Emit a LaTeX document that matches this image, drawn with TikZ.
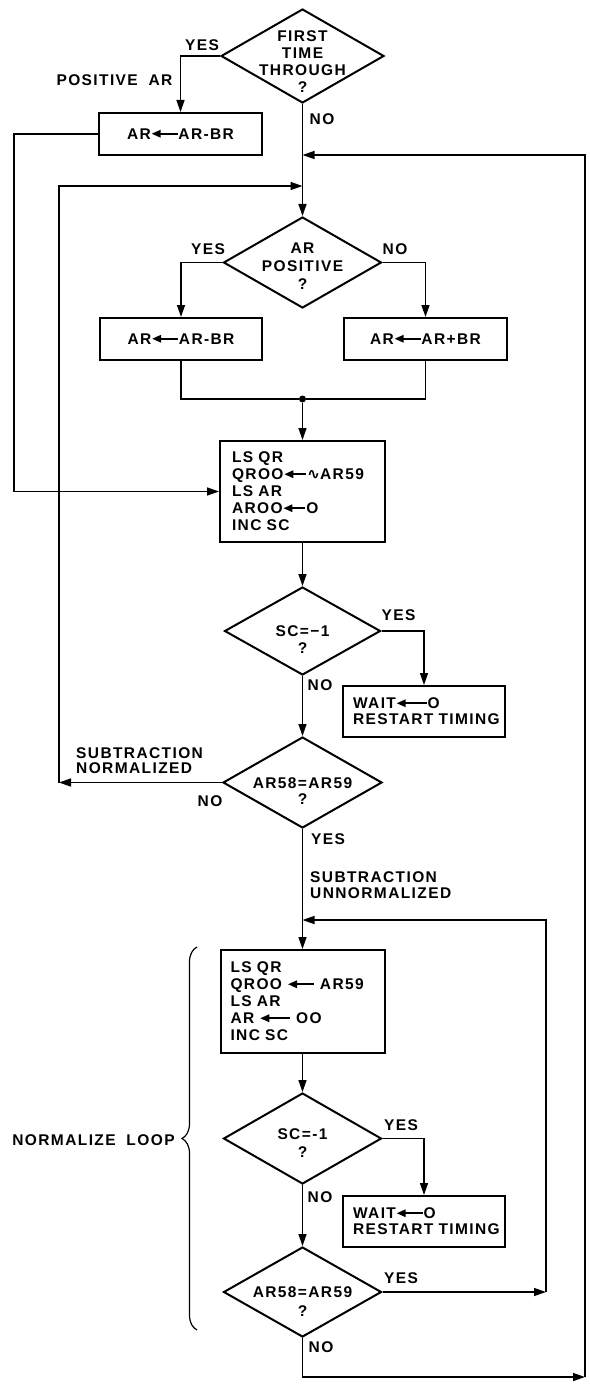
\documentclass[tikz,border=0pt]{standalone}
\usepackage{fontspec}
\setmainfont{Liberation Sans}[LetterSpace=9, WordSpace=1.9, BoldFont={Liberation Sans Bold}]
\newfontfamily\symfont{DejaVu Sans}[BoldFont={DejaVu Sans Bold}]
\usetikzlibrary{shapes.geometric,arrows.meta,decorations.pathreplacing}
\newcommand{\tarr}[1]{\tikz[baseline=-5.6pt]\draw[line width=1.6pt,-{Triangle[length=9pt,width=7.5pt]}] (#1,0pt) -- (0pt,0pt);}
\newcommand{\lf}[1]{\fontsize{15.5}{#1}\selectfont\bfseries}
\begin{document}
\begin{tikzpicture}[x=1pt,y=-1pt,
  txt/.style={font=\lf{17}, inner sep=0pt, align=center},
  box/.style={draw, line width=2pt, rectangle, inner ysep=0pt, font=\lf{17}},
  dia/.style={draw, diamond, line width=2pt, inner sep=0pt, minimum width=158, minimum height=90},
  conn/.style={line width=1.4pt},
  arr/.style={conn, -{Triangle[length=12pt,width=8pt]}},
]
\fill[white] (0,0) rectangle (589,1388);
\useasboundingbox (0,0) rectangle (589,1388);

% main column nodes
\node[dia, minimum width=163, minimum height=94] (d1) at (302.5,56) {};
\node[txt] (d1t) at (302.5,61.5) {FIRST\\TIME\\THROUGH\\?};
\node[box, minimum width=163, minimum height=42] (b1) at (180.5,134) {AR\tarr{26pt}AR-BR};
\node[dia, minimum height=91] (d2) at (302.5,262.5) {};
\node[txt, font=\lf{18}] (d2t) at (302.5,266) {AR\\POSITIVE\\?};
\node[box, minimum width=162, minimum height=42] (b2) at (181,339) {AR\tarr{26pt}AR-BR};
\node[box, minimum width=163, minimum height=42] (b3) at (425.5,339) {AR\tarr{26pt}AR+BR};
\node[circle, fill, inner sep=0pt, minimum size=7] (m) at (302.5,399) {};
\node[box, text width=141, inner xsep=12, minimum height=101, align=left] (ls1) at (302.5,491.5)
  {LS QR\\QROO\tarr{22pt}{\symfont ∿}AR59\\LS AR\\AROO\tarr{22pt}O\\INC SC};
\node[dia, minimum width=156, minimum height=88] (d3) at (302.5,631) {};
\node[txt] (d3t) at (302.5,639.5) {SC=−1\\?};
\node[box, text width=142, inner xsep=10, minimum height=51, align=left, font=\lf{16}] (w1) at (424,711.5)
  {WAIT\tarr{30pt}O\\\mbox{RESTART\ TIMING}};
\node[dia, minimum width=159, minimum height=91] (d4) at (302.5,782.5) {};
\node[txt, font=\lf{16}] (d4t) at (302.5,791) {AR58=AR59\\?};
\node[box, text width=144, inner xsep=10, minimum height=103, align=left] (ls2) at (302.5,1001.5)
  {LS QR\\QROO \tarr{26pt} AR59\\LS AR\\AR \tarr{30pt} OO\\INC SC};
\node[dia, minimum height=91] (d5) at (302.5,1138.5) {};
\node[txt, font=\lf{18}] (d5t) at (302.5,1143) {SC=-1\\?};
\node[box, text width=142, inner xsep=10, minimum height=51, align=left, font=\lf{16}] (w2) at (424,1221.5)
  {WAIT\tarr{26pt}O\\\mbox{RESTART\ TIMING}};
\node[dia, minimum height=90] (d6) at (302.5,1292) {};
\node[txt, font=\lf{19}] (d6t) at (302.5,1302) {AR58=AR59\\?};

% labels
\node[txt] (l1) at (202,45) {YES};
\node[txt] (l2) at (114.5,80) {POSITIVE AR};
\node[txt] (l3) at (322,119) {NO};
\node[txt] (l4) at (208,249) {YES};
\node[txt] (l5) at (395,249) {NO};
\node[txt] (l6) at (398.5,615) {YES};
\node[txt] (l7) at (320,685) {NO};
\node[txt, anchor=west, align=left, font=\lf{15}] (l8) at (76,760.5) {SUBTRACTION\\NORMALIZED};
\node[txt] (l9) at (210,801) {NO};
\node[txt] (l10) at (328,839) {YES};
\node[txt, anchor=west, align=left, font=\lf{16}] (l11) at (310,885) {SUBTRACTION\\UNNORMALIZED};
\node[txt] (l12) at (401,1125) {YES};
\node[txt] (l13) at (320,1197) {NO};
\node[txt] (l14) at (401,1278) {YES};
\node[txt] (l15) at (321,1347) {NO};
\node[txt] (l16) at (93.5,1140) {NORMALIZE LOOP};

% junction coordinates
\coordinate (c1) at (14,134);
\coordinate (c2) at (59,782.5);
\coordinate (j1) at (302.5,155);
\coordinate (j2) at (302.5,186);
\coordinate (c3) at (546,1292);
\coordinate (j3) at (302.5,920);
\coordinate (c4) at (302.5,1377);
\coordinate (c5) at (585,1377);

% connectors
\draw[arr] (d1.west) -| (b1.north);
\draw[arr] (d1.south) -- (d2.north);
\draw[arr] (b1.west) -- (c1) |- (ls1.west);
\draw[arr] (d2.west) -| (b2.north);
\draw[arr] (d2.east) -| (b3.north);
\draw[conn] (b2.south) |- (m);
\draw[conn] (b3.south) |- (m);
\draw[arr] (m) -- (ls1.north);
\draw[arr] (ls1.south) -- (d3.north);
\draw[arr] (d3.east) -| (w1.north);
\draw[arr] (d3.south) -- (d4.north);
\draw[arr] (d4.west) -- (c2);
\draw[arr] (c2) |- (j2);
\draw[arr] (d4.south) -- (ls2.north);
\draw[arr] (ls2.south) -- (d5.north);
\draw[arr] (d5.east) -| (w2.north);
\draw[arr] (d5.south) -- (d6.north);
\draw[arr] (d6.east) -- (c3);
\draw[arr] (c3) |- (j3);
\draw[arr] (d6.south) -- (c4) -- (c5);
\draw[arr] (c5) |- (j1);

% brace
\draw[line width=1.2pt, decorate, decoration={brace, amplitude=15pt}] (197,1330) -- (197,947);
\end{tikzpicture}
\end{document}
